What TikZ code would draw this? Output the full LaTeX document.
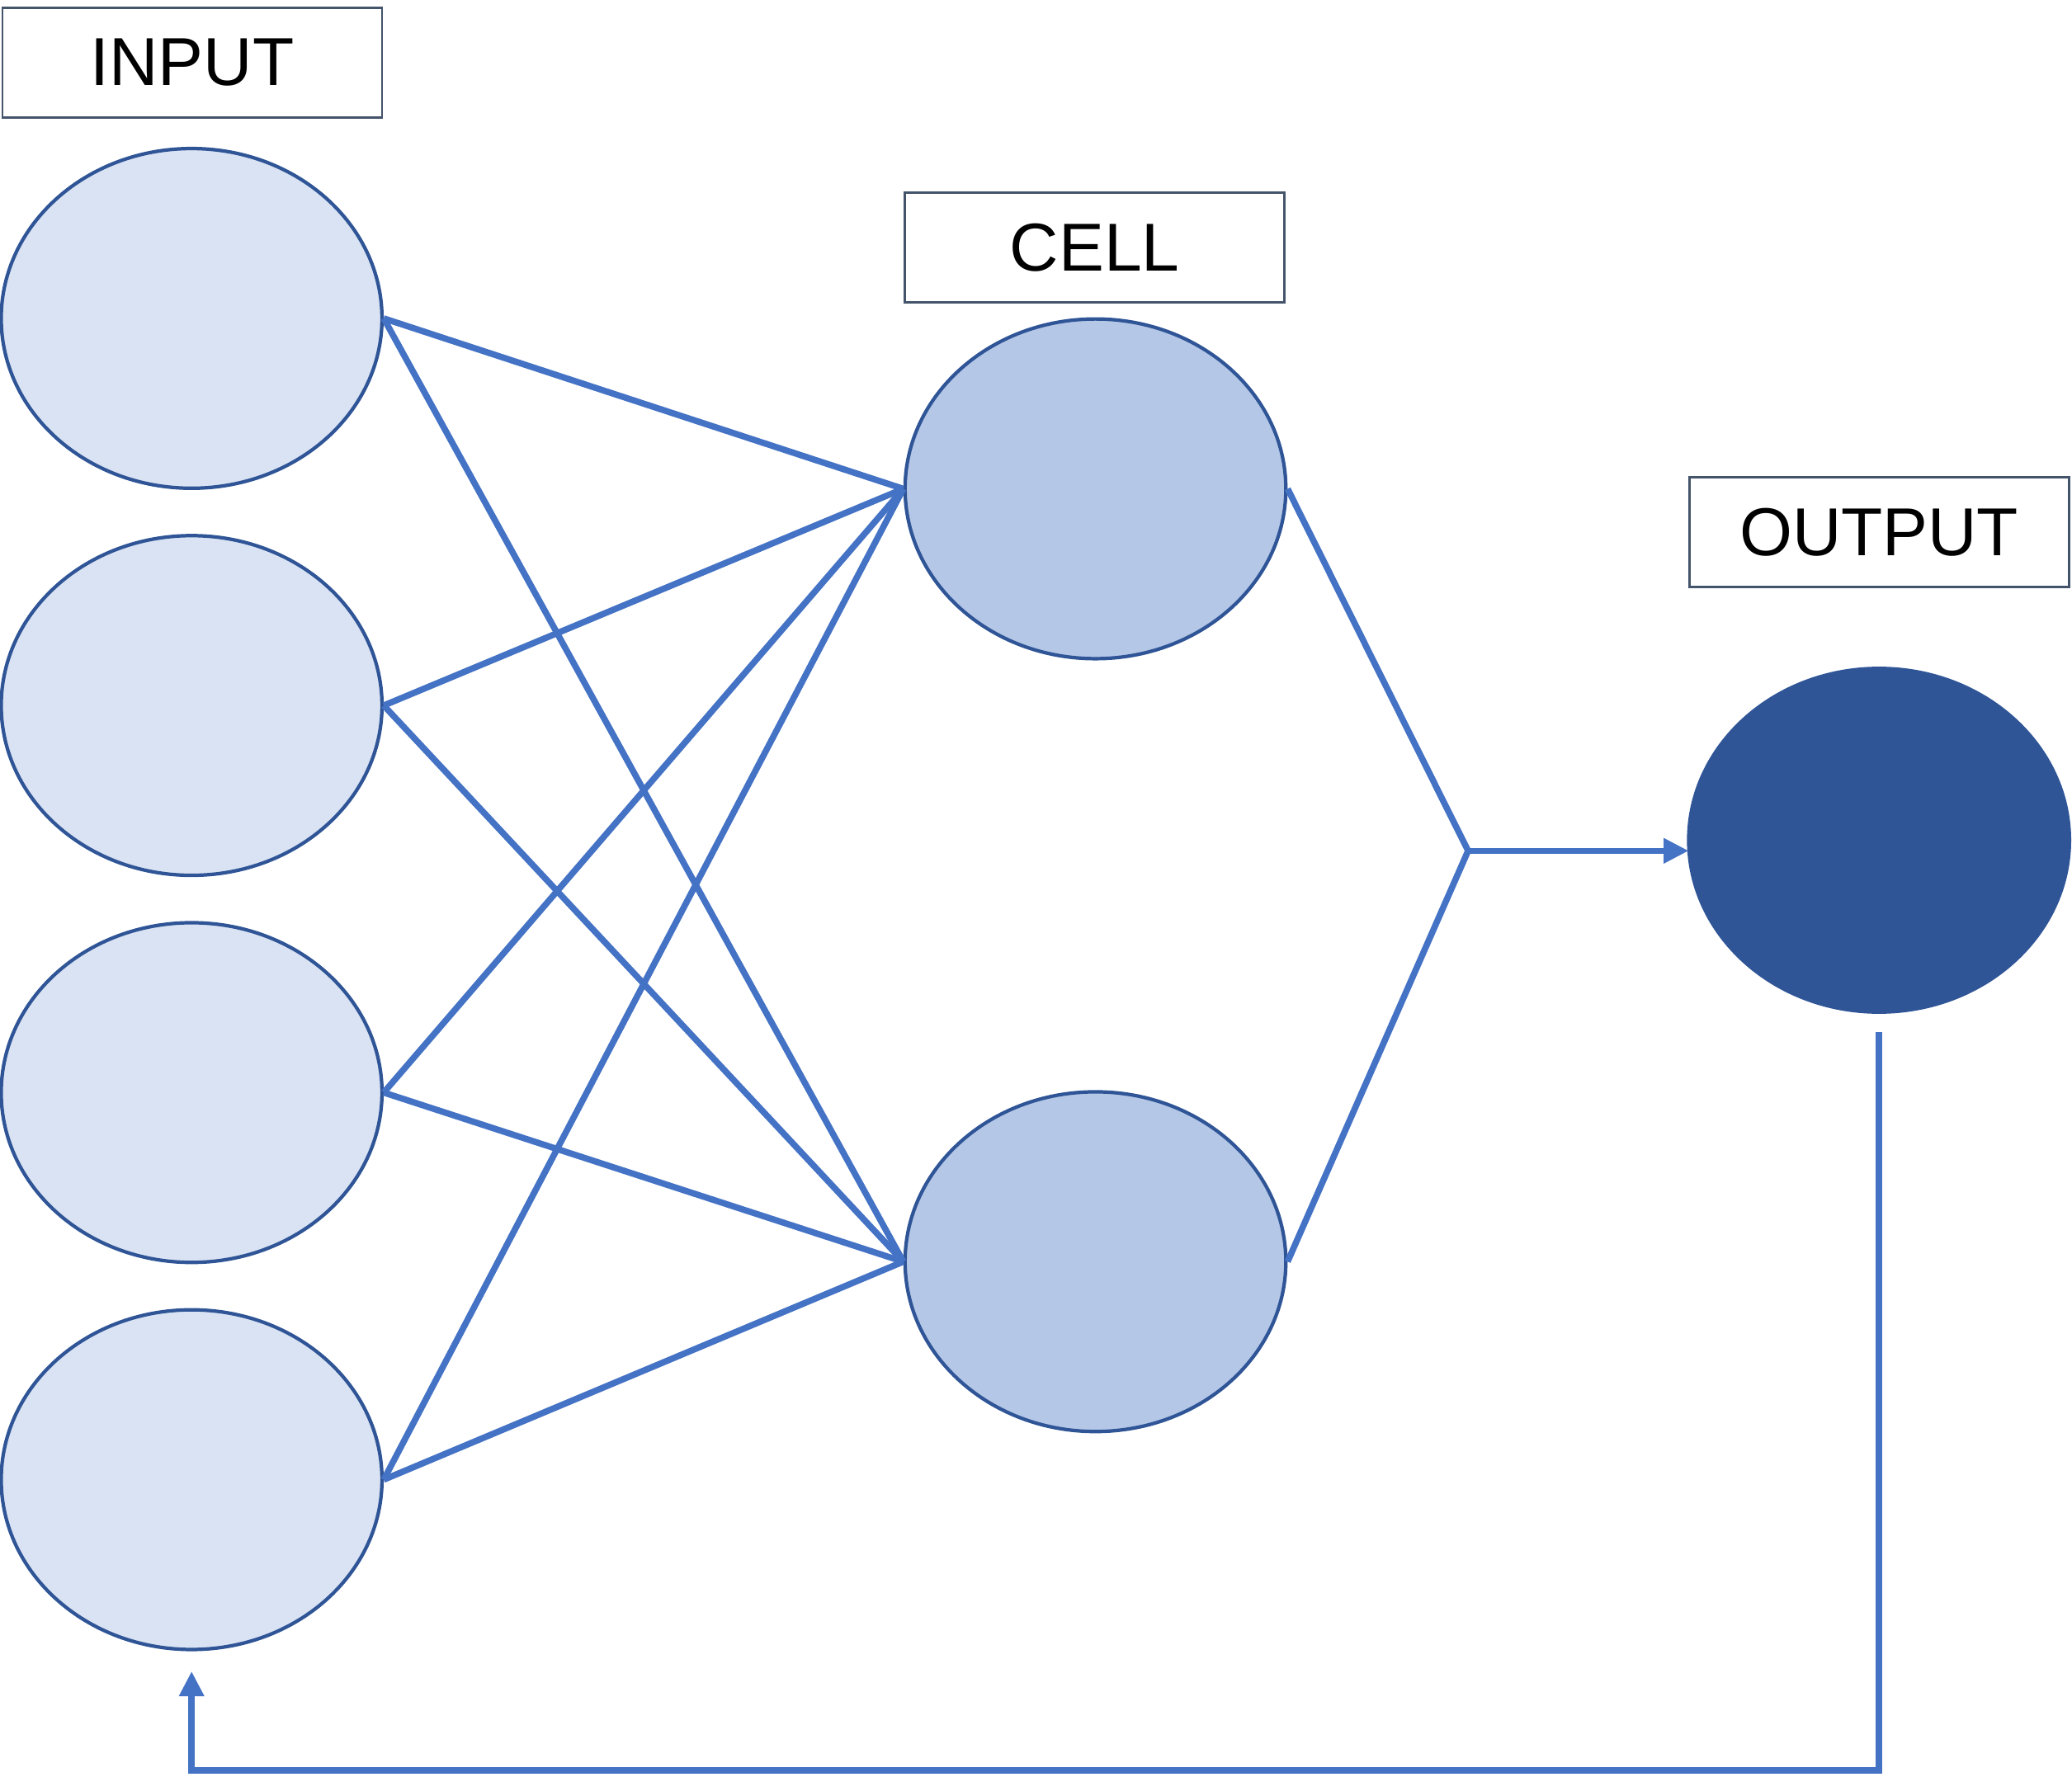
\documentclass[tikz,border=0pt]{standalone}
\usepackage{fontspec}
\setmainfont{Liberation Sans}
\usetikzlibrary{arrows.meta,shapes.geometric}
\definecolor{inblue}{HTML}{DAE3F3}
\definecolor{cellblue}{HTML}{B4C7E7}
\definecolor{darkblue}{HTML}{2F5597}
\definecolor{wireblue}{HTML}{4472C4}
\definecolor{boxgray}{HTML}{44546A}

\begin{document}
\begin{tikzpicture}[x=0.01cm,y=-0.01cm,
  neuron/.style={ellipse,draw=darkblue,line width=0.75pt,minimum width=2.88cm,minimum height=2.57cm,inner sep=0pt},
  label box/.style={rectangle,draw=boxgray,line width=0.5pt,minimum width=2.87cm,minimum height=0.83cm,inner sep=0pt,font=\fontsize{14.6}{18}\selectfont},
  wire/.style={draw=wireblue,line width=1.35pt},
  tip/.style={-{Triangle[length=0.19cm,width=0.18cm]}}]
\useasboundingbox (0,0) rectangle (1568,1345);
% labels
\node[label box] (inlabel) at (145.5,47.5) {INPUT};
\node[label box] (celllabel) at (828.5,187.5) {CELL};
\node[label box] (outlabel) at (1422,403) {OUTPUT};
% input layer
\node[neuron,fill=inblue] (in1) at (145,241) {};
\node[neuron,fill=inblue] (in2) at (145,534) {};
\node[neuron,fill=inblue] (in3) at (145,827) {};
\node[neuron,fill=inblue] (in4) at (145,1120) {};
% cells
\node[neuron,fill=cellblue] (cell1) at (829,370) {};
\node[neuron,fill=cellblue] (cell2) at (829,955) {};
% output
\node[neuron,fill=darkblue,minimum height=2.6cm] (out) at (1422,636) {};
% input to cell
\draw[wire] (in1.east) -- (cell1.west);
\draw[wire] (in1.east) -- (cell2.west);
\draw[wire] (in2.east) -- (cell1.west);
\draw[wire] (in2.east) -- (cell2.west);
\draw[wire] (in3.east) -- (cell1.west);
\draw[wire] (in3.east) -- (cell2.west);
\draw[wire] (in4.east) -- (cell1.west);
\draw[wire] (in4.east) -- (cell2.west);
% cell to output
\coordinate (join) at (1111,644);
\coordinate (outin) at (1278,644);
\draw[wire] (cell1.east) -- (join) -- (cell2.east);
\draw[wire,tip] (join) -- (outin);
% feedback
\coordinate (fbstart) at (1422,781);
\coordinate (fbend) at (145,1265);
\draw[wire,tip] (fbstart) -- (1422,1340) -- (145,1340) -- (fbend);
\end{tikzpicture}
\end{document}
